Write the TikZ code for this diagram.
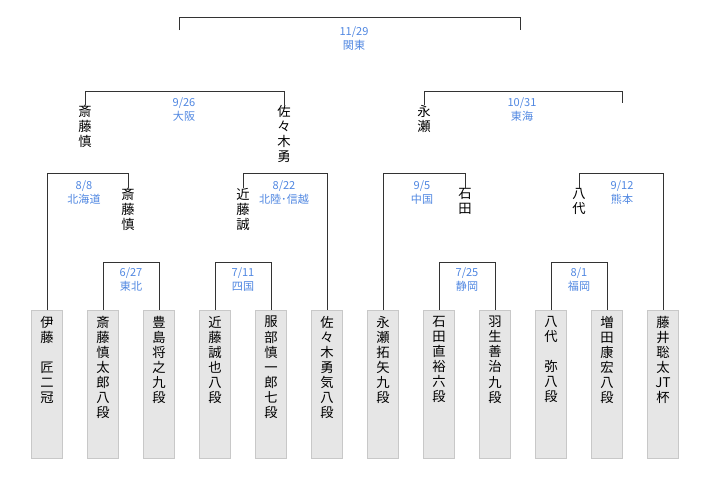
\documentclass[tikz,border=0pt]{standalone}
\usepackage{fontspec}
\usetikzlibrary{calc}
\newfontfamily\cjk{Noto Sans CJK JP}
\definecolor{lab}{RGB}{80,135,225}
\definecolor{boxf}{RGB}{230,230,230}
\definecolor{boxd}{RGB}{200,200,200}
\begin{document}
\begin{tikzpicture}[x=0.75pt,y=-0.75pt,
  ln/.style={draw=black!80,line width=0.7pt},
  nm/.style={inner sep=0pt,align=center,anchor=north,font=\cjk\fontsize{10}{11.3}\selectfont},
  lb/.style={inner sep=0pt,align=center,anchor=north,text=lab,font=\cjk\fontsize{8.3}{10.5}\selectfont},
  leaf/.style={fill=boxf,draw=boxd,line width=0.5pt,minimum width=23pt,minimum height=111pt,anchor=north,inner sep=0pt}]
\useasboundingbox (0,0) rectangle (720,476);
% leaves
\foreach \i/\x/\t in {1/47/伊\\藤\\\mbox{}\\匠\\二\\冠, 2/103/斎\\藤\\慎\\太\\郎\\八\\段, 3/159/豊\\島\\将\\之\\九\\段,
 4/215/近\\藤\\誠\\也\\八\\段, 5/271/服\\部\\慎\\一\\郎\\七\\段, 6/327/佐\\々\\木\\勇\\気\\八\\段,
 7/383/永\\瀬\\拓\\矢\\九\\段, 8/439/石\\田\\直\\裕\\六\\段, 9/495/羽\\生\\善\\治\\九\\段,
 10/551/八\\代\\\mbox{}\\弥\\八\\段, 11/607/増\\田\\康\\宏\\八\\段, 12/663/藤\\井\\聡\\太\\JT\\杯}{
  \node[leaf] (L\i) at (\x,310) {};
  \node[nm] (T\i) at (\x,316) {\t};
}
% first round
\foreach \a/\b/\d/\p in {2/3/6\slash27/東北, 4/5/7\slash11/四国, 8/9/7\slash25/静岡, 10/11/8\slash1/福岡}{
  \draw[ln] (L\a.north) -- (L\a.north |- 0,262) -- (L\b.north |- 0,262) -- (L\b.north);
  \node[lb] at ($(L\a.north)!0.5!(L\b.north)+(0,-43)$) {\d\\\p};
}
% second round: names
\node[nm] (W1) at (128,188) {斎\\藤\\慎};
\node[nm] (W2) at (243,188) {近\\藤\\誠};
\node[nm] (W3) at (465,188) {石\\田};
\node[nm] (W4) at (579,188) {八\\代};
\draw[ln] (L1.north) |- (128,173) -- (W1.north);
\node[lb] at (84,180) {8/8\\北海道};
\draw[ln] (W2.north) -- (243,173) -| (L6.north);
\node[lb] at (284,180) {8/22\\北陸･信越};
\draw[ln] (L7.north) |- (465,173) -- (W3.north);
\node[lb] at (422,180) {9/5\\中国};
\draw[ln] (W4.north) -- (579,173) -| (L12.north);
\node[lb] at (622,180) {9/12\\熊本};
% semifinals
\node[nm] (S1) at (85,105) {斎\\藤\\慎};
\node[nm] (S2) at (284,105) {佐\\々\\木\\勇};
\node[nm] (S3) at (424,105) {永\\瀬};
\coordinate (S4) at (622,103);
\draw[ln] (S1.north) -- (85,91) -- (284,91) -- (S2.north);
\node[lb] at (184,97) {9/26\\大阪};
\draw[ln] (S3.north) -- (424,91) -- (622,91) -- (S4);
\node[lb] at (522,97) {10/31\\東海};
% final
\coordinate (F1) at (179,30);
\coordinate (F2) at (520,30);
\draw[ln] (F1) -- (179,17) -- (520,17) -- (F2);
\node[lb] at (354,26) {11/29\\関東};
\end{tikzpicture}
\end{document}
